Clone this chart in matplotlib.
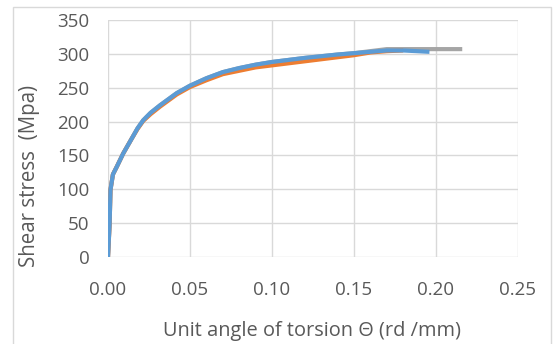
import matplotlib
matplotlib.use("Agg")
import matplotlib.pyplot as plt
from matplotlib.patches import Rectangle

# Torsion test curves: unit angle of twist (rd/mm) vs shear stress (MPa)
theta_blue = [0, 0.001, 0.0015, 0.003, 0.0053, 0.0093, 0.0145, 0.018, 0.0215, 0.026,
              0.0317, 0.0419, 0.050, 0.060, 0.070, 0.080, 0.090, 0.100, 0.120, 0.140,
              0.150, 0.160, 0.170, 0.180, 0.196]
stress_blue = [0, 50, 99, 122, 133, 153, 175, 190, 202, 213,
               224, 242, 253, 264, 273, 279, 284, 288, 294, 299,
               301, 303, 305, 305, 303]

theta_orange = [0, 0.001, 0.0015, 0.003, 0.0053, 0.0093, 0.0145, 0.018, 0.0215, 0.026,
                0.0317, 0.0419, 0.050, 0.060, 0.070, 0.080, 0.090, 0.100, 0.120, 0.140,
                0.150, 0.160, 0.170, 0.180]
stress_orange = [0, 50, 99, 122, 133, 153, 175, 189, 201, 211,
                 222, 240, 251, 261, 270, 275, 280, 283, 289, 295,
                 298, 302, 304, 305]

theta_gray = [0, 0.001, 0.0015, 0.003, 0.0053, 0.0093, 0.0145, 0.018, 0.0215, 0.026,
              0.0317, 0.0419, 0.050, 0.060, 0.070, 0.080, 0.090, 0.100, 0.120, 0.140,
              0.150, 0.160, 0.170, 0.190, 0.216]
stress_gray = [0, 50, 99, 122, 133, 153, 175, 190, 202, 213,
               224, 242, 253, 264, 273, 279, 284, 288, 294, 299,
               301, 304, 307, 307, 307]

x_ticks = [0.00, 0.05, 0.10, 0.15, 0.20, 0.25]
y_ticks = [0, 50, 100, 150, 200, 250, 300, 350]

plt.rcParams['font.family'] = ['Open Sans', 'DejaVu Sans']
text_color = '#595959'

W, H = 553, 344
fig = plt.figure(figsize=(W / 100, H / 100), dpi=100)
fig.patches.append(Rectangle((13 / W, -0.01), (551 - 13) / W, 1 - 7 / H + 0.01,
                             transform=fig.transFigure, fill=False,
                             edgecolor='#D9D9D9', linewidth=1.0, zorder=0))
ax = fig.add_axes([108 / W, 1 - 257 / H, (518 - 108) / W, (257 - 20) / H])

ax.plot(theta_gray, stress_gray, color='#A5A5A5', lw=3.0, solid_capstyle='butt',
        solid_joinstyle='round', zorder=3)
ax.plot(theta_orange, stress_orange, color='#ED7D31', lw=3.0, solid_capstyle='butt',
        solid_joinstyle='round', zorder=4)
ax.plot(theta_blue, stress_blue, color='#5B9BD5', lw=3.0, solid_capstyle='butt',
        solid_joinstyle='round', zorder=5)

ax.set_xlim(0, 0.25)
ax.set_ylim(0, 350)
ax.set_xticks(x_ticks)
ax.set_xticklabels([f"{v:.2f}" for v in x_ticks])
ax.set_yticks(y_ticks)
ax.set_yticklabels([str(v) for v in y_ticks])
ax.grid(True, color='#D9D9D9', linewidth=1.0)
ax.set_axisbelow(True)
for s in ax.spines.values():
    s.set_visible(False)
ax.tick_params(length=0, labelsize=13.5, labelcolor=text_color)
ax.tick_params(axis='y', pad=13.5)
ax.tick_params(axis='x', pad=17)

fig.text(312 / W, 1 - 331 / H, "Unit angle of torsion \u0398 (rd /mm)",
         fontsize=14.4, color=text_color, ha='center', va='center')
fig.text(30 / W, 1 - 176 / H, "Shear stress  (Mpa)", rotation=90,
         fontsize=14.8, color=text_color, ha='center', va='center')

fig.savefig("out.png", dpi=100)
